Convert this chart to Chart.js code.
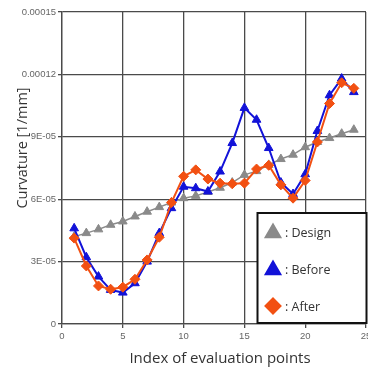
<!DOCTYPE html>
<html>
<head>
<meta charset="utf-8">
<script src="https://cdn.jsdelivr.net/npm/chart.js@4.4.0/dist/chart.umd.min.js"></script>
<style>
html,body{margin:0;padding:0;background:#fff;overflow:hidden;}
#wrap{width:368px;height:369px;overflow:hidden;position:relative;}
canvas{display:block;}
</style>
</head>
<body>
<div id="wrap"><canvas id="c" width="392" height="369"></canvas></div>
<script>
const indices = [1,2,3,4,5,6,7,8,9,10,11,12,13,14,15,16,17,18,19,20,21,22,23,24];
const design = [4.20e-5,4.37e-5,4.55e-5,4.77e-5,4.93e-5,5.17e-5,5.40e-5,5.62e-5,5.84e-5,6.05e-5,6.16e-5,6.35e-5,6.55e-5,6.80e-5,7.17e-5,7.35e-5,7.65e-5,7.93e-5,8.14e-5,8.50e-5,8.75e-5,8.94e-5,9.15e-5,9.34e-5];
const before = [4.60e-5,3.21e-5,2.28e-5,1.64e-5,1.51e-5,1.96e-5,3.00e-5,4.37e-5,5.57e-5,6.60e-5,6.53e-5,6.37e-5,7.33e-5,8.70e-5,10.39e-5,9.82e-5,8.46e-5,6.80e-5,6.25e-5,7.20e-5,9.28e-5,11.00e-5,11.80e-5,11.15e-5];
const after = [4.13e-5,2.79e-5,1.83e-5,1.67e-5,1.77e-5,2.15e-5,3.08e-5,4.17e-5,5.84e-5,7.10e-5,7.41e-5,6.97e-5,6.77e-5,6.74e-5,6.77e-5,7.45e-5,7.63e-5,6.69e-5,6.05e-5,6.90e-5,8.75e-5,10.60e-5,11.60e-5,11.33e-5];
const seriesNames = ['Design','Before','After'];
const yTickValues = [0,0.00003,0.00006,0.00009,0.00012,0.00015];
const yTickLabels = ['0','3E-05','6E-05','9E-05','0.00012','0.00015'];
const xTickValues = [0,5,10,15,20,25];
const xTickLabels = ['0','5','10','15','20','25'];
const xTitle = 'Index of evaluation points';
const yTitle = 'Curvature [1/mm]';

const toPts = arr => arr.map((v,i)=>({x:indices[i], y:v}));

const GRID = '#4a4a4a';

const annotPlugin = {
  id:'boxLegend',
  afterDraw(chart){
    const ctx = chart.ctx;
    ctx.save();
    // axis titles
    ctx.fillStyle = '#333';
    ctx.font = '15px "Open Sans"';
    ctx.textAlign = 'center';
    ctx.textBaseline = 'alphabetic';
    ctx.fillText(xTitle, 220, 363);
    ctx.save();
    ctx.translate(27, 148);
    ctx.rotate(-Math.PI/2);
    ctx.font = '14.5px "Open Sans"';
    ctx.fillText(yTitle, 0, 0);
    ctx.restore();
    // legend box
    const x0 = 257.5, y0 = 213, w = 109, h = 110;
    ctx.fillStyle = '#fff';
    ctx.fillRect(x0, y0, w, h);
    ctx.strokeStyle = '#111';
    ctx.lineWidth = 2;
    ctx.strokeRect(x0, y0, w, h);
    const ys = [232, 269, 306];
    [0,1,2].forEach((di, k) => {
      const ds = chart.data.datasets.find(d => d.label === seriesNames[di]);
      ctx.fillStyle = ds.pointBackgroundColor;
      ctx.strokeStyle = ds.pointBorderColor;
      Chart.helpers.drawPoint(ctx, {pointStyle: ds.pointStyle, radius: ds.legendRadius, rotation: 0, borderWidth: 1}, 273, ys[k] + (ds.pointStyle === 'triangle' ? 1 : 0));
      ctx.fillStyle = '#333';
      ctx.font = '12.5px "Open Sans"';
      ctx.textBaseline = 'middle';
      ctx.textAlign = 'left';
      ctx.fillText(': ' + seriesNames[di], 285, ys[k] + 1);
    });
    ctx.restore();
  }
};

new Chart(document.getElementById('c'), {
  type: 'scatter',
  data: {
    datasets: [
      {
        label: seriesNames[2], data: toPts(after), showLine: true, order: 0,
        borderColor: '#f25012', borderWidth: 2,
        pointStyle: 'rectRot', pointRadius: 5, legendRadius: 7.5,
        pointBackgroundColor: '#f25012', pointBorderColor: '#f25012', pointBorderWidth: 1
      },
      {
        label: seriesNames[1], data: toPts(before), showLine: true, order: 1,
        borderColor: '#1212d8', borderWidth: 2,
        pointStyle: 'triangle', pointRadius: 5, legendRadius: 8.5,
        pointBackgroundColor: '#1212d8', pointBorderColor: '#1212d8', pointBorderWidth: 1
      },
      {
        label: seriesNames[0], data: toPts(design), showLine: true, order: 2,
        borderColor: '#8a8a8a', borderWidth: 1.5,
        pointStyle: 'triangle', pointRadius: 5, legendRadius: 8.5, pointRotation: 0,
        pointBackgroundColor: '#8a8a8a', pointBorderColor: '#8a8a8a', pointBorderWidth: 1
      }
    ]
  },
  options: {
    responsive: false,
    animation: false,
    devicePixelRatio: 1,
    layout: { padding: { top: 12, right: 26, left: 0, bottom: 0 } },
    plugins: { legend: { display: false }, tooltip: { enabled: false } },
    elements: { line: { tension: 0 } },
    scales: {
      x: {
        type: 'linear', min: 0, max: 25,
        afterBuildTicks: s => { s.ticks = xTickValues.map(v => ({value: v})); },
        afterFit: s => { s.height = 45; },
        ticks: {
          callback: (v) => xTickLabels[xTickValues.indexOf(v)],
          color: '#666', font: { family: 'Liberation Sans', size: 9.5 }, padding: 3, maxRotation: 0
        },
        grid: { color: GRID, lineWidth: 1.3, tickLength: 4, tickColor: GRID },
        border: { color: GRID, width: 1.3 },
        title: { display: false }
      },
      y: {
        type: 'linear', min: 0, max: 0.00015,
        afterBuildTicks: s => { s.ticks = yTickValues.map(v => ({value: v})); },
        afterFit: s => { s.width = 62; },
        ticks: {
          callback: (v) => yTickLabels[yTickValues.indexOf(v)],
          color: '#666', font: { family: 'Liberation Sans', size: 9.5 }, padding: 2
        },
        grid: { color: GRID, lineWidth: 1.3, tickLength: 4, tickColor: GRID },
        border: { color: GRID, width: 1.3 },
        title: { display: false }
      }
    }
  },
  plugins: [annotPlugin]
});
</script>
</body>
</html>
